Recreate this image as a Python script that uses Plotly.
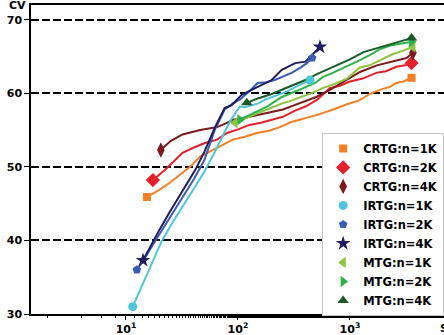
import plotly.graph_objects as go

# ---- data ----
crtg1_x = [15.4, 20, 25, 30, 38, 46, 58, 72, 90, 115, 148, 190, 237, 300, 415, 520, 710, 940, 1200, 1500, 1870, 2300, 2600, 3000, 3550]
crtg1_y = [45.9, 46.9, 47.9, 48.9, 50.1, 51.4, 52.2, 53.0, 53.7, 54.1, 54.6, 54.9, 55.4, 56.1, 56.7, 57.1, 57.8, 58.5, 59.0, 59.9, 60.5, 60.9, 61.4, 61.6, 62.1]

crtg2_x = [17.4, 22, 27, 32, 40, 50, 65, 80, 100, 127, 160, 200, 252, 320, 400, 507, 660, 800, 1000, 1300, 1740, 2100, 2600, 3100, 3550]
crtg2_y = [48.2, 49.5, 50.8, 51.9, 52.6, 53.2, 53.7, 54.6, 55.1, 55.7, 56.0, 56.4, 56.8, 57.6, 58.2, 59.1, 60.7, 61.0, 61.6, 62.0, 62.8, 63.0, 63.6, 63.8, 64.1]

crtg4_x = [20.5, 25, 32, 40, 46, 55, 65, 78, 90, 110, 127, 160, 200, 252, 320, 400, 500, 650, 800, 940, 1230, 1740, 2400, 3200, 3650]
crtg4_y = [52.3, 53.5, 54.4, 54.8, 55.0, 55.2, 55.4, 55.9, 56.4, 56.6, 56.8, 57.2, 57.5, 57.8, 58.4, 58.9, 59.5, 60.4, 61.2, 61.8, 62.9, 63.8, 64.3, 64.8, 65.5]

irtg1_x = [11.5, 14, 17, 21, 26, 32, 40, 50, 62, 75, 85, 95, 104, 115, 130, 150, 180, 220, 270, 330, 400, 440]
irtg1_y = [31.0, 34.0, 37.0, 40.0, 42.4, 44.6, 46.9, 49.3, 52.0, 54.6, 56.2, 57.3, 58.2, 58.1, 58.3, 58.6, 59.2, 59.7, 60.2, 60.9, 61.5, 61.8]

irtg2_x = [12.5, 15, 18, 22, 27, 33, 40, 50, 62, 76, 90, 105, 123, 150, 180, 213, 250, 305, 370, 420, 460]
irtg2_y = [36.0, 37.8, 39.8, 41.9, 44.0, 46.1, 48.2, 50.9, 55.0, 57.8, 58.6, 59.2, 60.1, 61.4, 61.5, 61.8, 62.2, 62.8, 63.6, 64.2, 64.8]

irtg4_x = [14.2, 17, 20, 24, 29, 35, 42, 50, 62, 76, 88, 108, 133, 163, 200, 246, 280, 325, 400, 460, 540]
irtg4_y = [37.3, 39.6, 41.5, 43.6, 45.7, 47.7, 49.7, 52.0, 55.3, 58.0, 58.4, 59.8, 60.5, 61.2, 61.8, 63.2, 63.6, 64.1, 64.3, 65.2, 66.3]

mtg1_x = [94, 115, 140, 182, 246, 300, 357, 450, 570, 710, 940, 1230, 1500, 1860, 2400, 3000, 3650]
mtg1_y = [56.0, 56.6, 57.1, 57.8, 58.6, 59.0, 59.4, 60.0, 60.7, 61.2, 62.0, 63.5, 63.8, 64.5, 65.3, 65.8, 66.3]

mtg2_x = [104, 125, 150, 182, 246, 300, 357, 490, 570, 710, 900, 1230, 1500, 1860, 2300, 2800, 3550]
mtg2_y = [56.4, 57.0, 57.6, 58.2, 59.5, 60.0, 60.5, 61.4, 62.2, 62.8, 63.5, 64.5, 65.2, 66.0, 66.5, 66.7, 67.0]

mtg4_x = [120, 150, 200, 252, 320, 400, 507, 640, 800, 1000, 1320, 1700, 2100, 2600, 3100, 3550]
mtg4_y = [58.7, 59.3, 59.9, 60.5, 61.2, 61.8, 62.6, 63.3, 63.9, 64.6, 65.6, 66.1, 66.5, 66.9, 67.2, 67.5]

series = [
    ("CRTG:n=1K", crtg1_x, crtg1_y, "#f47f24", "square", 8),
    ("CRTG:n=2K", crtg2_x, crtg2_y, "#e4202a", "diamond", 11),
    ("CRTG:n=4K", crtg4_x, crtg4_y, "#7b1a1c", "diamond-tall", 11),
    ("IRTG:n=1K", irtg1_x, irtg1_y, "#4ec5da", "circle", 9),
    ("IRTG:n=2K", irtg2_x, irtg2_y, "#3a5cb3", "pentagon", 9),
    ("IRTG:n=4K", irtg4_x, irtg4_y, "#201c5e", "star", 11),
    ("MTG:n=1K", mtg1_x, mtg1_y, "#8cc53f", "triangle-left", 10),
    ("MTG:n=2K", mtg2_x, mtg2_y, "#2db24a", "triangle-right", 10),
    ("MTG:n=4K", mtg4_x, mtg4_y, "#1b5a26", "triangle-up", 10),
]

fig = go.Figure()
for name, xs, ys, col, sym, sz in series:
    fig.add_trace(go.Scatter(x=xs, y=ys, mode="lines", line=dict(color=col, width=2),
                             showlegend=False, hoverinfo="skip"))
for name, xs, ys, col, sym, sz in series:
    fig.add_trace(go.Scatter(x=[xs[0], xs[-1]], y=[ys[0], ys[-1]], mode="markers", name=name,
                             marker=dict(color=col, symbol=sym, size=sz, line=dict(width=0))))

bold = dict(family="DejaVu Sans", size=11, color="black", weight="bold")

fig.update_layout(
    width=444, height=335,
    margin=dict(l=31, r=0, t=5, b=21, autoexpand=False),
    plot_bgcolor="white", paper_bgcolor="white",
    font=bold,
    showlegend=True,
    legend=dict(x=0.705, y=0.586, xanchor="left", yanchor="top",
                bgcolor="white", bordercolor="#c8c8c8", borderwidth=1,
                font=dict(family="DejaVu Sans", size=11.5, color="black", weight="bold"),
                itemwidth=30, tracegroupgap=0),
    xaxis=dict(type="log", range=[0.152, 3.84], showgrid=False,
               tickvals=[10, 100, 1000],
               ticktext=["10<sup>1</sup>", "10<sup>2</sup>", "10<sup>3</sup>"],
               ticks="outside", ticklen=4, tickwidth=1, tickcolor="black",
               showline=True, linecolor="black", linewidth=1.5, mirror=True,
               minor=dict(ticks="outside", ticklen=2, tickcolor="black", showgrid=False),
               zeroline=False, automargin=False),
    yaxis=dict(range=[30, 72], tickvals=[30, 40, 50, 60, 70],
               showgrid=True, gridcolor="black", gridwidth=2, griddash="8px,3px",
               ticks="outside", ticklen=5, tickcolor="black",
               showline=True, linecolor="black", linewidth=1.5,
               zeroline=False, automargin=False),
    annotations=[
        dict(text="CV", xref="paper", yref="paper", x=-0.032, y=1.0, xanchor="center", yanchor="middle",
             showarrow=False, font=bold),
        dict(text="S", xref="paper", yref="paper", x=1.0, y=-0.02, xanchor="center", yanchor="top",
             showarrow=False, font=bold),
    ],
)

fig.write_html("out.html", config={"displayModeBar": False},
               post_script="document.body.style.margin='0';document.body.style.padding='0';")
